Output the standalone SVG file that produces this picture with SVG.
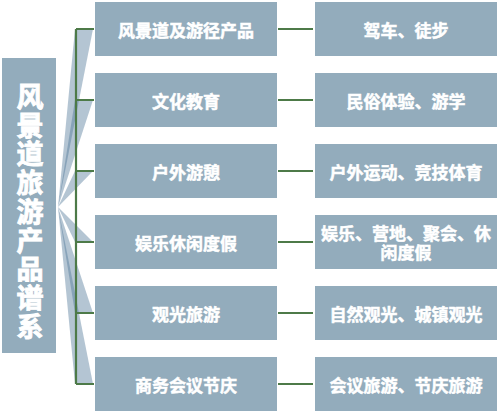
<svg xmlns="http://www.w3.org/2000/svg" width="499" height="413" viewBox="0 0 499 413">
<style>
.box{fill:#93acbc}
.t{font-family:"Noto Sans CJK SC","Noto Sans",sans-serif;font-weight:bold;fill:#ffffff;stroke:#ffffff;stroke-width:0.5;font-size:17px;text-anchor:middle;dominant-baseline:central}
.lt{font-family:"Noto Sans CJK SC","Noto Sans",sans-serif;font-weight:bold;fill:#ffffff;stroke:#ffffff;stroke-width:0.9;font-size:27px;writing-mode:vertical-rl;letter-spacing:1.75px}
.w{fill:#4d7597;fill-opacity:0.42}
.c{stroke:#4d7a48;stroke-width:2.2;fill:none}
</style>
<rect width="499" height="413" fill="#ffffff"/>
<g id="fan">
<polygon class="w" points="58,207 75,29 93,29"/>
<polygon class="w" points="58,207 75,100 93,100"/>
<polygon class="w" points="58,207 75,171 93,171"/>
<polygon class="w" points="58,207 75,242 93,242"/>
<polygon class="w" points="58,207 75,313 93,313"/>
<polygon class="w" points="58,207 75,384 93,384"/>
</g>
<g id="connectors">
<path class="c" d="M76,29 V384 M76,29 H94 M76,100 H94 M76,171 H94 M76,242 H94 M76,313 H94 M76,384 H94"/>
<path class="c" d="M278,29 H313 M278,100 H313 M278,171 H313 M278,242 H313 M278,313 H313 M278,384 H313"/>
</g>
<g id="root">
<rect class="box" x="2" y="58" width="54" height="295"/>
<text class="lt" x="30" y="83">风景道旅游产品谱系</text>
</g>
<g id="m1"><rect class="box" x="95" y="2" width="182" height="54"/><text class="t" x="186" y="29">风景道及游径产品</text></g>
<g id="m2"><rect class="box" x="95" y="73" width="182" height="54"/><text class="t" x="186" y="100">文化教育</text></g>
<g id="m3"><rect class="box" x="95" y="144" width="182" height="54"/><text class="t" x="186" y="171">户外游憩</text></g>
<g id="m4"><rect class="box" x="95" y="215" width="182" height="54"/><text class="t" x="186" y="242">娱乐休闲度假</text></g>
<g id="m5"><rect class="box" x="95" y="286" width="182" height="54"/><text class="t" x="186" y="313">观光旅游</text></g>
<g id="m6"><rect class="box" x="95" y="357" width="182" height="54"/><text class="t" x="186" y="384">商务会议节庆</text></g>
<g id="r1"><rect class="box" x="315" y="2" width="182" height="54"/><text class="t" x="406" y="29">驾车、徒步</text></g>
<g id="r2"><rect class="box" x="315" y="73" width="182" height="54"/><text class="t" x="406" y="100">民俗体验、游学</text></g>
<g id="r3"><rect class="box" x="315" y="144" width="182" height="54"/><text class="t" x="406" y="171">户外运动、竞技体育</text></g>
<g id="r4"><rect class="box" x="315" y="215" width="182" height="54"/><text class="t"><tspan x="406" y="232">娱乐、营地、聚会、休</tspan><tspan x="406" y="251">闲度假</tspan></text></g>
<g id="r5"><rect class="box" x="315" y="286" width="182" height="54"/><text class="t" x="406" y="313">自然观光、城镇观光</text></g>
<g id="r6"><rect class="box" x="315" y="357" width="182" height="54"/><text class="t" x="406" y="384">会议旅游、节庆旅游</text></g>
</svg>
